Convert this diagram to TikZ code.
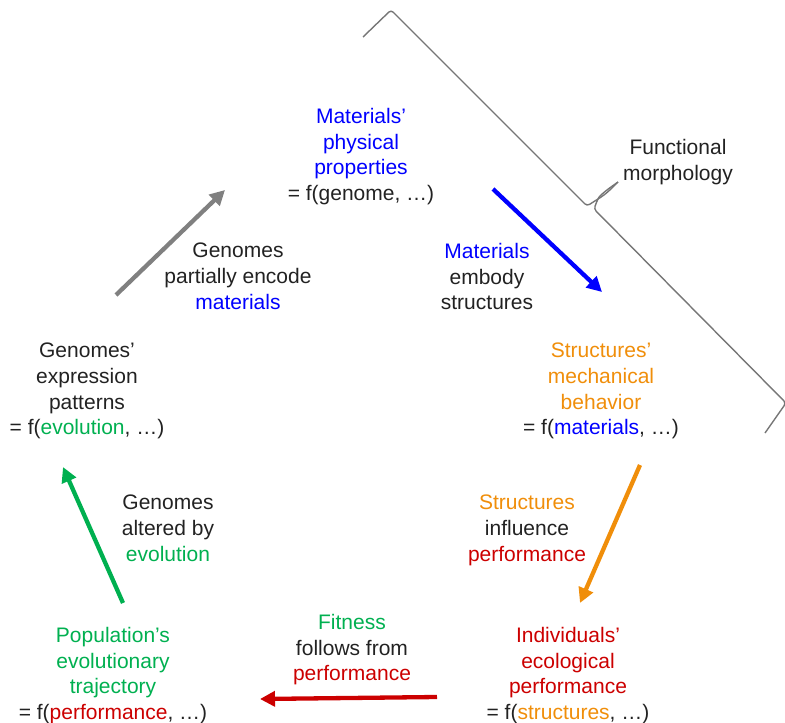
\documentclass[tikz,border=0pt]{standalone}
\usepackage{fontspec}
\setmainfont{Liberation Sans}
\usetikzlibrary{arrows.meta}
\definecolor{ink}{RGB}{34,34,34}
\definecolor{cblue}{RGB}{0,0,255}
\definecolor{corange}{RGB}{240,142,10}
\definecolor{cred}{RGB}{204,0,0}
\definecolor{cgreen}{RGB}{0,176,80}
\definecolor{cgray}{RGB}{128,128,128}
\definecolor{bracegray}{RGB}{118,118,118}
\begin{document}
\begin{tikzpicture}[x=1pt,y=-1pt,
  lbl/.style={align=center, anchor=north, inner sep=0pt, font=\fontsize{21}{25.6}\selectfont, text=ink},
  arr/.style={line width=4.3pt, -{Triangle[length=15pt,width=15pt]}},
  bracestyle/.style={draw=bracegray, line width=1.4pt, rounded corners=3pt}
]
\useasboundingbox (0,0) rectangle (785,723);

% texts
\node[lbl] (matprop) at (361,108) {\textcolor{cblue}{Materials’}\\\textcolor{cblue}{physical}\\\textcolor{cblue}{properties}\\= f(genome, …)};
\node[lbl] (funcmorph) at (678,139) {Functional\\morphology};
\node[lbl] (genenc) at (238,243) {Genomes\\partially encode\\\textcolor{cblue}{materials}};
\node[lbl] (matemb) at (487,243) {\textcolor{cblue}{Materials}\\embody\\structures};
\node[lbl] (genexp) at (87,343) {Genomes’\\expression\\patterns\\= f(\textcolor{cgreen}{evolution}, …)};
\node[lbl] (structmech) at (601,343) {\textcolor{corange}{Structures’}\\\textcolor{corange}{mechanical}\\\textcolor{corange}{behavior}\\= f(\textcolor{cblue}{materials}, …)};
\node[lbl] (genalt) at (168,495) {Genomes\\altered by\\\textcolor{cgreen}{evolution}};
\node[lbl] (structinf) at (527,495) {\textcolor{corange}{Structures}\\influence\\\textcolor{cred}{performance}};
\node[lbl] (poptraj) at (113,627) {\textcolor{cgreen}{Population’s}\\\textcolor{cgreen}{evolutionary}\\\textcolor{cgreen}{trajectory}\\= f(\textcolor{cred}{performance}, …)};
\node[lbl] (fitness) at (352,614) {\textcolor{cgreen}{Fitness}\\follows from\\\textcolor{cred}{performance}};
\node[lbl] (indperf) at (568,627) {\textcolor{cred}{Individuals’}\\\textcolor{cred}{ecological}\\\textcolor{cred}{performance}\\= f(\textcolor{corange}{structures}, …)};

% arrow end points
\coordinate (g1) at (116,295); \coordinate (g2) at (225,190);
\coordinate (b1) at (493,189); \coordinate (b2) at (602,292);
\coordinate (o1) at (640,465); \coordinate (o2) at (580,603);
\coordinate (r1) at (437,697); \coordinate (r2) at (260,699);
\coordinate (e1) at (123,603); \coordinate (e2) at (63,467);

\draw[arr, cgray] (g1) -- (g2);
\draw[arr, cblue] (b1) -- (b2);
\draw[arr, corange] (o1) -- (o2);
\draw[arr, cred] (r1) -- (r2);
\draw[arr, cgreen] (e1) -- (e2);

% brace
\coordinate (bA) at (363,37);
\coordinate (bB) at (391,10);
\coordinate (bC) at (587,206);
\coordinate (bC2) at (598,199);
\coordinate (btip) at (618,182);
\coordinate (bD2) at (597,201);
\coordinate (bD) at (594,209);
\coordinate (bE) at (786,403);
\coordinate (bF) at (765,433);
\draw[bracestyle] (bA) -- (bB) -- (bC) -- (bC2) .. controls (606,194) and (612,188) .. (btip);
\draw[bracestyle] (btip) .. controls (608,189) and (600,195) .. (bD2) -- (bD) -- (bE) -- (bF);
\end{tikzpicture}
\end{document}
